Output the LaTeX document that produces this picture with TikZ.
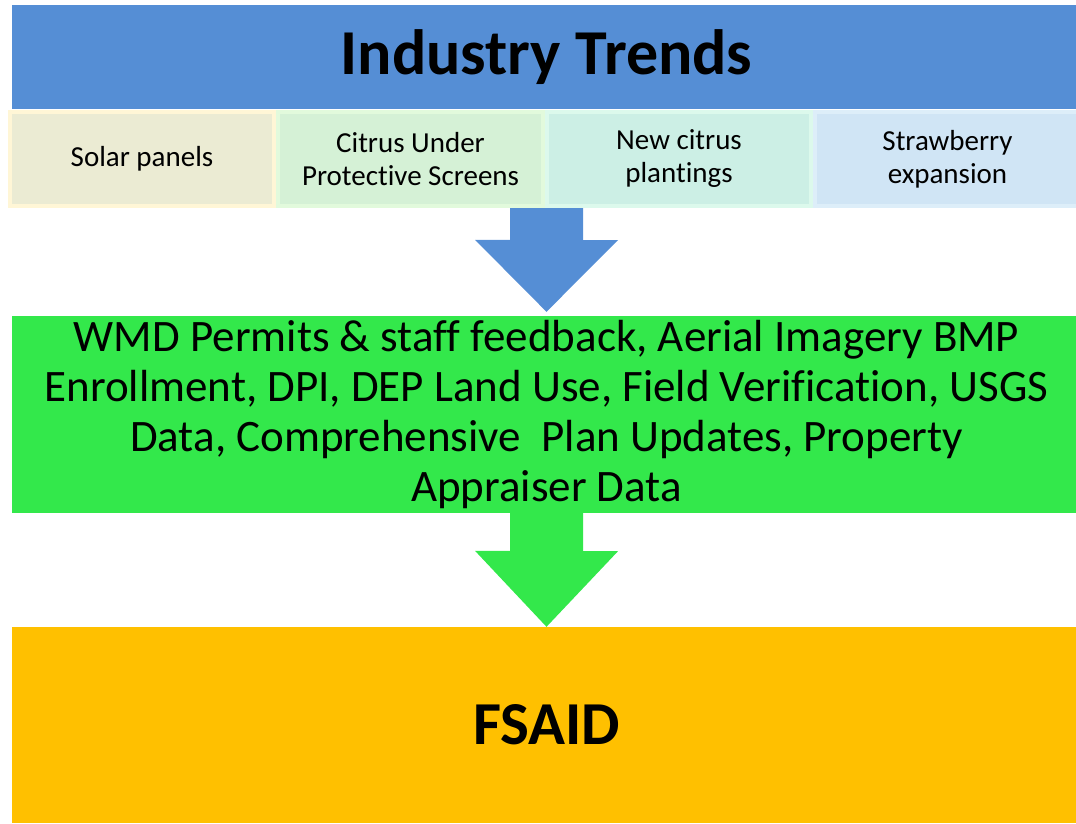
\documentclass[tikz,border=0pt]{standalone}
\usepackage{fontspec}
\setmainfont[Ligatures=NoCommon]{Carlito}
\usetikzlibrary{calc}

\definecolor{hdrblue}{HTML}{558ED5}
\definecolor{srcgreen}{HTML}{33E84B}
\definecolor{outorange}{HTML}{FFC000}
\definecolor{solarfill}{HTML}{EBEBD3}
\definecolor{solarline}{HTML}{FFF6D6}
\definecolor{screenfill}{HTML}{D5F1D6}
\definecolor{screenline}{HTML}{E2FADC}
\definecolor{citrusfill}{HTML}{CCEFE5}
\definecolor{citrusline}{HTML}{DCF9EC}
\definecolor{berryfill}{HTML}{D0E5F5}
\definecolor{berryline}{HTML}{DDEEF9}

\tikzset{
  bigbox/.style={inner sep=0pt, minimum width=1069pt, align=center},
  trendbox/.style={line width=4pt, inner sep=0pt, minimum width=264.5pt,
    minimum height=94pt, align=center, font=\fontsize{29}{33}\selectfont}
}

\begin{document}
\begin{tikzpicture}[x=1pt, y=-1pt]
      \useasboundingbox (0,0) rectangle (1076,823);

      % header
      \node[bigbox, fill=hdrblue, minimum height=104pt,
        font=\fontsize{64}{76}\selectfont\bfseries] (title) at(546.5, 57){Industry Trends};

      % trend row
      \node[trendbox, fill=solarfill, draw=solarline] (solar) at(142, 159){Solar panels};
      \node[trendbox, fill=screenfill, draw=screenline] (screens) at(410.5, 159){Citrus Under\\Protective Screens};
      \node[trendbox, fill=citrusfill, draw=citrusline] (newcitrus) at(679, 159){New citrus\\plantings};
      \node[trendbox, fill=berryfill, draw=berryline] (strawberry) at(947.5, 159){Strawberry\\expansion};

      % data sources
      \node[bigbox, fill=srcgreen, minimum height=197pt,
        font=\fontsize{45}{50}\selectfont] (sources) at(546.5, 414.5){WMD Permits \& staff feedback, Aerial Imagery BMP\\
        Enrollment, DPI, DEP Land Use, Field Verification, USGS\\
        Data, Comprehensive\ \ Plan Updates, Property\\
        Appraiser Data};

      \node[bigbox, fill=outorange, minimum height=196pt,
        font=\fontsize{61}{72}\selectfont\bfseries] (fsaid) at(546.5, 725){FSAID};

      % block arrows
      \fill[hdrblue] ($(sources.north |- solar.south)+(-36.5,0)$) -- ++(73,0) -- ++(0,32) -- ++(35,0)
        -- ($(sources.north)+(0,-4)$) -- ++(-71.5,-72) -- ++(35,0) -- cycle;
      \fill[srcgreen] ($(sources.south)+(-36.5,0)$) -- ++(73,0) -- ++(0,38) -- ++(35,0)
        -- (fsaid.north) -- ++(-71.5,-76) -- ++(35,0) -- cycle;

\end{tikzpicture}
\end{document}
